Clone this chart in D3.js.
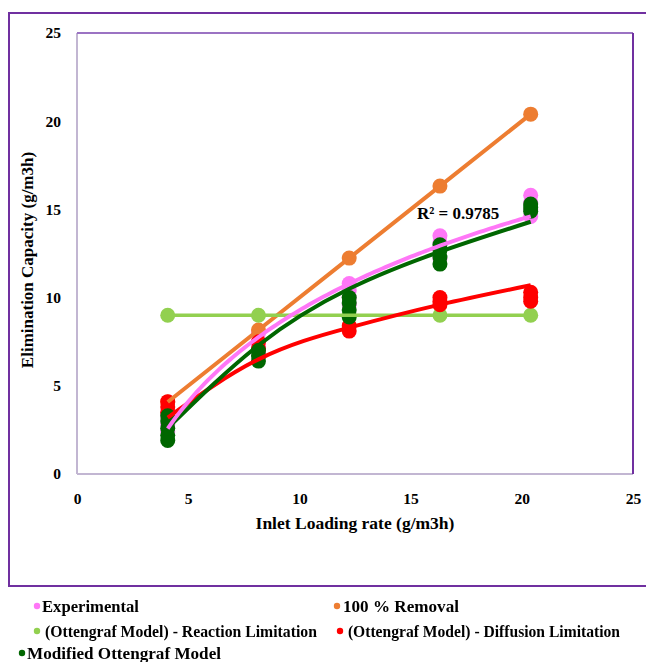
<!DOCTYPE html>
<html>
<head>
<meta charset="utf-8">
<script src="https://cdn.jsdelivr.net/npm/d3@7"></script>
<style>
  html, body { margin: 0; padding: 0; background: #fff; }
  svg { display: block; }
</style>
</head>
<body>
<svg id="chart" width="646" height="662"></svg>
<script>
// Inlet loading rates (g/m3h)
const loadingRates = [4.08, 8.16, 12.24, 16.32, 20.4];

// Experimental elimination capacity, replicate runs per loading rate
const experimental = [
  [2.4, 2.8, 3.2, 3.5],
  [6.9, 7.2, 7.5, 8.0],
  [9.6, 10.0, 10.4, 10.8],
  [12.2, 12.8, 13.1, 13.5],
  [14.6, 15.0, 15.4, 15.8]
];

// 100 % removal line (EC equal to inlet load)
const removal100 = [4.08, 8.16, 12.24, 16.32, 20.4];

// Ottengraf model, reaction limitation (zero order, constant EC)
const reactionLimitation = [9, 9, 9, 9, 9];

// Ottengraf model, diffusion limitation: points and model curve
const diffusionPoints = [
  [3.5, 3.8, 4.1],
  [7.1, 7.5],
  [8.1, 8.4],
  [9.6, 9.8, 10.0],
  [9.8, 10.0, 10.3]
];
const diffusionCurve = [3.2, 6.5, 8.3, 9.6, 10.7];

// Modified Ottengraf model: points and model curve
const modifiedPoints = [
  [1.9, 2.2, 2.6, 3.0, 3.3],
  [6.4, 6.7, 7.0],
  [8.9, 9.3, 9.7, 10.0],
  [11.9, 12.3, 12.7, 13.0],
  [14.9, 15.1, 15.3]
];
const modifiedCurve = [2.6, 7.3, 10.5, 12.6, 14.3];

const xTicks = [0, 5, 10, 15, 20, 25];
const yTicks = [0, 5, 10, 15, 20, 25];
const r2Label = "R² = 0.9785";

const legendItems = [
  { label: "Experimental", color: "#ff77f7" },
  { label: "100 % Removal", color: "#ed7d31" },
  { label: " (Ottengraf Model) - Reaction Limitation", color: "#92d050" },
  { label: " (Ottengraf Model) - Diffusion Limitation", color: "#ff0000" },
  { label: "Modified Ottengraf Model", color: "#006600" }
];

const C = {
  exp: "#ff77f7", removal: "#ed7d31", reaction: "#92d050",
  diffusion: "#ff0000", modified: "#006600", frame: "#7030a0"
};
const FONT = "'Liberation Serif', 'Times New Roman', Times, 'DejaVu Serif', serif";

const svg = d3.select("#chart")
  .attr("font-family", FONT).attr("font-weight", "bold");

// Outer frame
svg.append("rect")
  .attr("x", 9).attr("y", 13).attr("width", 660).attr("height", 573)
  .attr("fill", "none").attr("stroke", C.frame).attr("stroke-width", 2);

const x = d3.scaleLinear().domain([0, 25]).range([77, 633]);
const y = d3.scaleLinear().domain([0, 25]).range([474, 33]);

// Plot area borders
svg.append("line").attr("x1", x(0)).attr("x2", x(0)).attr("y1", y(25)).attr("y2", y(0))
  .attr("stroke", "#c2b6d2").attr("stroke-width", 2);
svg.append("line").attr("x1", x(0)).attr("x2", x(25)).attr("y1", y(0)).attr("y2", y(0))
  .attr("stroke", "#c2b6d2").attr("stroke-width", 2);
svg.append("line").attr("x1", x(0)).attr("x2", x(25)).attr("y1", y(25)).attr("y2", y(25))
  .attr("stroke", "#9b73c3").attr("stroke-width", 2);
svg.append("line").attr("x1", x(25)).attr("x2", x(25)).attr("y1", y(25)).attr("y2", y(0))
  .attr("stroke", C.frame).attr("stroke-width", 2);

// Axes (labels only)
const xAxis = svg.append("g").attr("transform", `translate(0,${y(0) + 16})`)
  .call(d3.axisBottom(x).tickValues(xTicks).tickSize(0).tickFormat(d3.format("d")));
xAxis.attr("font-family", FONT).attr("font-size", 15.5);
xAxis.select(".domain").remove();
xAxis.selectAll("text").attr("dy", "0.71em").attr("fill", "#000");

const yAxis = svg.append("g").attr("transform", `translate(${x(0) - 13},0)`)
  .call(d3.axisLeft(y).tickValues(yTicks).tickSize(0).tickFormat(d3.format("d")));
yAxis.attr("font-family", FONT).attr("font-size", 15.5);
yAxis.select(".domain").remove();
yAxis.selectAll("text").attr("fill", "#000");

// Axis titles
svg.append("text").attr("x", 355).attr("y", 529).attr("text-anchor", "middle")
  .attr("font-size", 17.5).text("Inlet Loading rate (g/m3h)");
svg.append("text").attr("transform", "translate(33,260) rotate(-90)")
  .attr("text-anchor", "middle").attr("font-size", 17).text("Elimination Capacity (g/m3h)");

// Flatten replicate arrays into point lists
const flat = (arr) => arr.flatMap((vals, i) => vals.map(v => [loadingRates[i], v]));
const single = (arr) => arr.map((v, i) => [loadingRates[i], v]);

const R = 7.5;
function markers(points, color) {
  svg.append("g").selectAll("circle").data(points).join("circle")
    .attr("cx", d => x(d[0])).attr("cy", d => y(d[1])).attr("r", R).attr("fill", color);
}

// Markers in series order
markers(flat(experimental), C.exp);
markers(single(removal100), C.removal);
markers(single(reactionLimitation), C.reaction);
markers(flat(diffusionPoints), C.diffusion);
markers(flat(modifiedPoints), C.modified);

// Logarithmic least-squares fit of the experimental data
const expPts = flat(experimental);
const lx = expPts.map(p => Math.log(p[0]));
const ly = expPts.map(p => p[1]);
const mx = d3.mean(lx), my = d3.mean(ly);
const slope = d3.sum(lx.map((v, i) => (v - mx) * (ly[i] - my))) / d3.sum(lx.map(v => (v - mx) ** 2));
const intercept = my - slope * mx;
const trendXs = d3.range(0, 101).map(i => loadingRates[0] + (loadingRates[4] - loadingRates[0]) * i / 100);
const trendPts = trendXs.map(t => [t, slope * Math.log(t) + intercept]);

const straight = d3.line().x(d => x(d[0])).y(d => y(d[1]));
const smooth = d3.line().x(d => x(d[0])).y(d => y(d[1])).curve(d3.curveNatural);

function path(points, gen, color, w) {
  svg.append("path").datum(points).attr("d", gen)
    .attr("fill", "none").attr("stroke", color).attr("stroke-width", w)
    .attr("stroke-linejoin", "round").attr("stroke-linecap", "butt");
}

path(single(removal100), straight, C.removal, 4);
path(single(reactionLimitation), straight, C.reaction, 3.5);
path(single(diffusionCurve), smooth, C.diffusion, 4);
path(single(modifiedCurve), smooth, C.modified, 4);
path(trendPts, straight, C.exp, 4);

// R² annotation
svg.append("text").attr("x", 417).attr("y", 219).attr("font-size", 17).text(r2Label);

// Legend (soft rendering)
const defs = svg.append("defs");
defs.append("filter").attr("id", "soft")
  .append("feGaussianBlur").attr("stdDeviation", 0.45);
const legend = svg.append("g").attr("class", "legend").attr("filter", "url(#soft)");
const legendPos = [
  { mx: 37, tx: 42, y: 606, w: 97 },
  { mx: 337, tx: 343, y: 606, w: 116 },
  { mx: 37, tx: 41, y: 631, w: 276 },
  { mx: 340, tx: 344, y: 631, w: 276 },
  { mx: 22, tx: 27, y: 653, w: 194 }
];
legendItems.forEach((item, i) => {
  const p = legendPos[i];
  legend.append("circle").attr("cx", p.mx).attr("cy", p.y).attr("r", 3.2).attr("fill", item.color);
  legend.append("text").attr("x", p.tx).attr("y", p.y + 5.5).attr("font-size", 16.5)
    .attr("textLength", p.w).attr("lengthAdjust", "spacingAndGlyphs")
    .attr("xml:space", "preserve").text(item.label);
});
</script>
</body>
</html>
